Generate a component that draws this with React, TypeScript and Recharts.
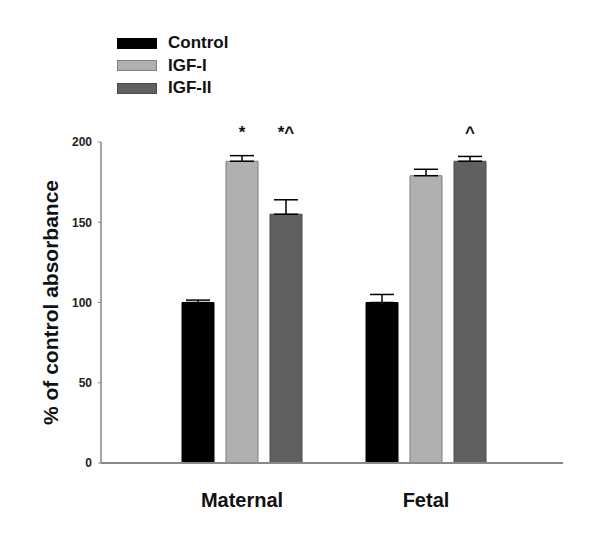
import React from 'react';
import { BarChart, Bar, XAxis, YAxis, ErrorBar, LabelList } from 'recharts';

const categories = ['Maternal', 'Fetal'];
const controlValues = [100, 100];
const controlErrors = [1.5, 5];
const igf1Values = [188, 179];
const igf1Errors = [3.5, 4];
const igf2Values = [155, 188];
const igf2Errors = [9, 3];
const igf1Marks = ['*', ''];
const igf2Marks = ['*^', '^'];
const yTicks = [0, 50, 100, 150, 200];
const markLevel = 202.5;

const data = categories.map((name, i) => ({
  name,
  control: controlValues[i],
  controlErr: [0, controlErrors[i]],
  igf1: igf1Values[i],
  igf1Err: [0, igf1Errors[i]],
  igf2: igf2Values[i],
  igf2Err: [0, igf2Errors[i]],
  igf1Mark: igf1Marks[i],
  igf2Mark: igf2Marks[i],
}));

const series = [
  { key: 'control', name: 'Control', fill: '#000000', stroke: '#000000' },
  { key: 'igf1', name: 'IGF-I', fill: '#b0b0b0', stroke: '#808080' },
  { key: 'igf2', name: 'IGF-II', fill: '#606060', stroke: '#4a4a4a' },
];

const FONT = 'Arial, "Liberation Sans", Helvetica, sans-serif';

const makeMark = (values: number[]) => (props: any) => {
  const { x, y, width, height, value, index } = props;
  if (!value) return null;
  const v = values[index];
  const base = y + height;
  const pxPerUnit = height / v;
  const ty = base - markLevel * pxPerUnit;
  return (
    <text x={x + width / 2} y={ty} textAnchor="middle" fontFamily={FONT} fontWeight="bold" fontSize={17} fill="#111">
      {value}
    </text>
  );
};

const LegendBox = () => (
  <div
    style={{
      position: 'absolute',
      left: 117,
      top: 32,
      fontFamily: FONT,
      fontWeight: 'bold',
      fontSize: 17,
      color: '#111',
    }}
  >
    {series.map((s) => (
      <div key={s.key} style={{ display: 'flex', alignItems: 'center', height: 22.5 }}>
        <div style={{ width: 38, height: 9, background: s.fill, border: `1px solid ${s.stroke}`, marginRight: 11 }} />
        <span>{s.name}</span>
      </div>
    ))}
  </div>
);

export default function App() {
  return (
    <div style={{ position: 'absolute', left: 0, top: 0, width: 600, height: 539, background: '#fff' }}>
      <BarChart
        width={600}
        height={539}
        data={data}
        margin={{ top: 142, right: 37, bottom: 46, left: 0 }}
        barSize={32}
        barGap={12}
      >
        <XAxis
          dataKey="name"
          height={30}
          padding={{ left: 49, right: 45 }}
          axisLine={{ stroke: '#888', strokeWidth: 2 }}
          tickLine={false}
          tickSize={0}
          tickMargin={30}
          tick={{ fontFamily: FONT, fontWeight: 'bold', fontSize: 20, fill: '#111' }}
        />
        <YAxis
          width={101}
          domain={[0, 200]}
          ticks={yTicks}
          axisLine={{ stroke: '#888', strokeWidth: 1.5 }}
          tickLine={{ stroke: '#888' }}
          tickSize={3}
          tickMargin={6}
          tick={{ fontFamily: FONT, fontWeight: 'bold', fontSize: 12, fill: '#222' }}
          label={{
            value: '% of control absorbance',
            angle: -90,
            position: 'center',
            dx: 0,
            style: { fontFamily: FONT, fontWeight: 'bold', fontSize: 21, fill: '#111' },
          }}
        />
        <Bar dataKey="control" name="Control" fill="#000" stroke="#000" isAnimationActive={false}>
          <ErrorBar dataKey="controlErr" width={12} stroke="#000" strokeWidth={1.5} direction="y" />
        </Bar>
        <Bar dataKey="igf1" name="IGF-I" fill="#b0b0b0" stroke="#808080" isAnimationActive={false}>
          <ErrorBar dataKey="igf1Err" width={12} stroke="#000" strokeWidth={1.5} direction="y" />
          <LabelList dataKey="igf1Mark" content={makeMark(igf1Values)} />
        </Bar>
        <Bar dataKey="igf2" name="IGF-II" fill="#606060" stroke="#4a4a4a" isAnimationActive={false}>
          <ErrorBar dataKey="igf2Err" width={12} stroke="#000" strokeWidth={1.5} direction="y" />
          <LabelList dataKey="igf2Mark" content={makeMark(igf2Values)} />
        </Bar>
      </BarChart>
      <LegendBox />
    </div>
  );
}
